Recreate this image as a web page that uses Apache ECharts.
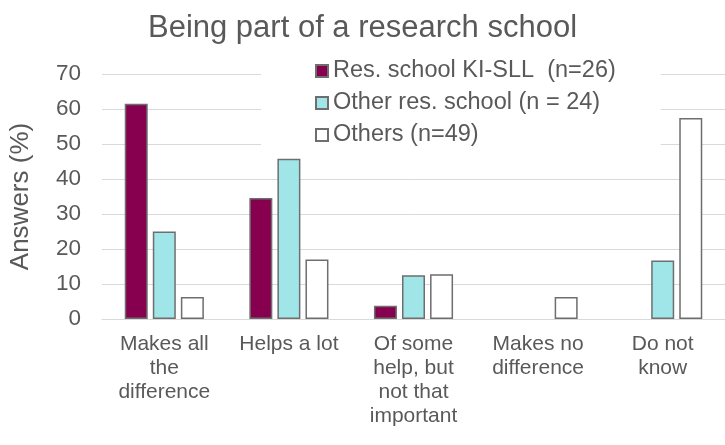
<!DOCTYPE html>
<html><head><meta charset="utf-8">
<script src="https://cdn.jsdelivr.net/npm/echarts@6/dist/echarts.min.js"></script>
<style>html,body{margin:0;padding:0;background:#fff}#c{width:725px;height:445px}</style>
</head><body><div id="c"></div>
<script>
var categories = ["Makes all\nthe\ndifference", "Helps a lot", "Of some\nhelp, but\nnot that\nimportant", "Makes no\ndifference", "Do not\nknow"];
var seriesNames = ["Res. school KI-SLL  (n=26)", "Other res. school (n = 24)", "Others (n=49)"];
var kiSll = [61.5, 34.6, 3.8, 0, 0];
var otherRes = [25, 45.8, 12.5, 0, 16.7];
var others = [6.3, 17, 12.8, 6.3, 57.4];
var yTicks = [0, 10, 20, 30, 40, 50, 60, 70];

var font = "Liberation Sans, Arial, sans-serif";
var txt = "#595959";
var colors = ["#870050", "#a0e6e9", "#ffffff"];
var dataSets = [kiSll, otherRes, others];

var chart = echarts.init(document.getElementById('c'));
chart.setOption({
  animation: false,
  title: {text: "Being part of a research school", left: "center", top: 5,
    textStyle: {fontFamily: font, fontSize: 31, fontWeight: "normal", color: txt, lineHeight: 36}},
  legend: {orient: "vertical", left: 261, top: 54, padding: [5, 45, 5, 54],
    backgroundColor: "#ffffff", itemWidth: 12, itemHeight: 12, itemGap: 8,
    icon: "rect", textStyle: {fontFamily: font, fontSize: 23.5, color: txt, lineHeight: 24},
    data: seriesNames, z: 1},
  grid: {left: 93, top: 74, bottom: 126, width: 637, containLabel: false},
  xAxis: {type: "category", data: categories,
    axisLine: {lineStyle: {color: "#d9d9d9", width: 1}}, axisTick: {show: false},
    axisLabel: {fontFamily: font, fontSize: 21, color: txt, lineHeight: 24, margin: 13, interval: 0}},
  yAxis: {type: "value", min: yTicks[0], max: yTicks[yTicks.length - 1], interval: 10,
    name: "Answers (%)", nameLocation: "middle", nameGap: 68,
    nameTextStyle: {fontFamily: font, fontSize: 26, color: txt},
    axisLine: {show: false}, axisTick: {show: false},
    axisLabel: {fontFamily: font, fontSize: 22.5, color: txt, margin: 21},
    splitLine: {lineStyle: {color: "#d9d9d9", width: 1}}},
  series: seriesNames.map(function (n, i) {
    return {name: n, type: "bar", z: 3,
      data: dataSets[i].map(function (v) { return v === 0 ? "-" : v; }),
      barWidth: 23, barGap: "22%",
      itemStyle: {color: colors[i], borderColor: "#6e6e6e", borderWidth: 1.5}};
  })
});
</script></body></html>
